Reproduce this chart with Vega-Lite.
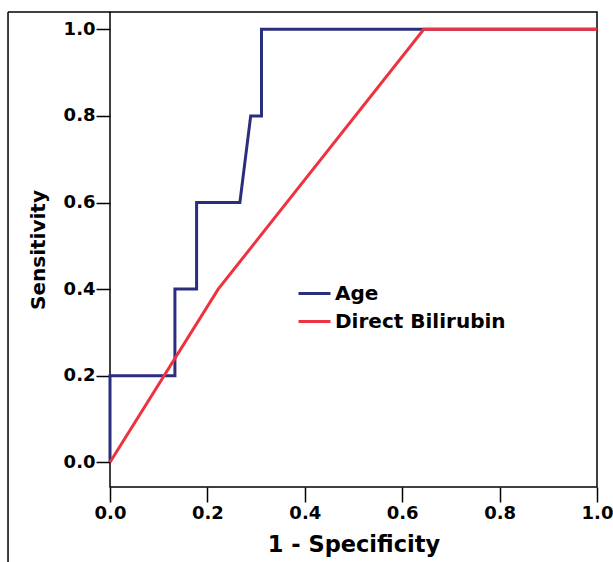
{
  "$schema": "https://vega.github.io/schema/vega-lite/v6.json",
  "width": 487,
  "height": 475,
  "autosize": {"type": "none"},
  "padding": {"left": 110, "top": 12, "right": 16, "bottom": 75},
  "background": "white",
  "config": {
    "view": {"stroke": "black", "strokeWidth": 1.5},
    "font": "DejaVu Sans",
    "axis": {"labelFont": "DejaVu Sans", "titleFont": "DejaVu Sans", "labelFontWeight": "bold", "titleFontWeight": "bold", "labelColor": "black", "titleColor": "black", "tickColor": "black", "domain": false, "grid": false, "tickWidth": 1.5}
  },
  "datasets": {
    "roc": [
      {"fpr": 0, "tpr": 0, "var": "Age", "ord": 0},
      {"fpr": 0, "tpr": 0.2, "var": "Age", "ord": 1},
      {"fpr": 0.1333, "tpr": 0.2, "var": "Age", "ord": 2},
      {"fpr": 0.1333, "tpr": 0.4, "var": "Age", "ord": 3},
      {"fpr": 0.1778, "tpr": 0.4, "var": "Age", "ord": 4},
      {"fpr": 0.1778, "tpr": 0.6, "var": "Age", "ord": 5},
      {"fpr": 0.2667, "tpr": 0.6, "var": "Age", "ord": 6},
      {"fpr": 0.2889, "tpr": 0.8, "var": "Age", "ord": 7},
      {"fpr": 0.3111, "tpr": 0.8, "var": "Age", "ord": 8},
      {"fpr": 0.3111, "tpr": 1.0, "var": "Age", "ord": 9},
      {"fpr": 1.0, "tpr": 1.0, "var": "Age", "ord": 10},
      {"fpr": 0, "tpr": 0, "var": "Direct Bilirubin", "ord": 0},
      {"fpr": 0.2222, "tpr": 0.4, "var": "Direct Bilirubin", "ord": 1},
      {"fpr": 0.6444, "tpr": 1.0, "var": "Direct Bilirubin", "ord": 2},
      {"fpr": 1.0, "tpr": 1.0, "var": "Direct Bilirubin", "ord": 3}
    ],
    "frame": [
      {"x": -0.2094, "y": 1.04, "y2": -0.23}
    ]
  },
  "layer": [
    {
      "data": {"name": "frame"},
      "mark": {"type": "rule", "color": "black", "strokeWidth": 1.5, "clip": false},
      "encoding": {
        "x": {"field": "x", "type": "quantitative", "scale": {"domain": [0, 1], "nice": false, "zero": false}},
        "y": {"field": "y", "type": "quantitative", "scale": {"domain": [-0.057, 1.04], "nice": false, "zero": false}},
        "y2": {"field": "y2"}
      }
    },
    {
      "data": {"name": "frame"},
      "mark": {"type": "rule", "color": "black", "strokeWidth": 1.5, "clip": false},
      "encoding": {
        "x": {"field": "x", "type": "quantitative"},
        "x2": {"datum": 0},
        "y": {"field": "y", "type": "quantitative"}
      }
    },
    {
      "data": {"name": "roc"},
      "mark": {"type": "line", "strokeWidth": 3, "clip": false},
      "encoding": {
        "x": {
          "field": "fpr", "type": "quantitative",
          "scale": {"domain": [0, 1], "nice": false, "zero": false},
          "axis": {"title": "1 - Specificity", "values": [0, 0.2, 0.4, 0.6, 0.8, 1.0], "format": ".1f", "labelFontSize": 18, "titleFontSize": 22.5, "tickSize": 15, "labelPadding": 2, "titlePadding": 11, "labelFlush": false}
        },
        "y": {
          "field": "tpr", "type": "quantitative",
          "scale": {"domain": [-0.057, 1.04], "nice": false, "zero": false},
          "axis": {"title": "Sensitivity", "values": [0, 0.2, 0.4, 0.6, 0.8, 1.0], "format": ".1f", "labelFontSize": 18, "titleFontSize": 20, "tickSize": 14, "labelPadding": 1, "titlePadding": 15}
        },
        "color": {
          "field": "var", "type": "nominal",
          "scale": {"domain": ["Age", "Direct Bilirubin"], "range": ["#2b2e7c", "#ee3340"]},
          "legend": {"title": null, "orient": "none", "legendX": 187, "legendY": 264, "symbolType": "M-1,0H1", "symbolSize": 1024, "symbolStrokeWidth": 3, "labelFontSize": 20, "labelFontWeight": "bold", "labelFont": "DejaVu Sans", "labelColor": "black", "labelLimit": 400, "rowPadding": -1.5, "labelOffset": 3}
        },
        "order": {"field": "ord", "type": "quantitative"}
      }
    }
  ]
}
